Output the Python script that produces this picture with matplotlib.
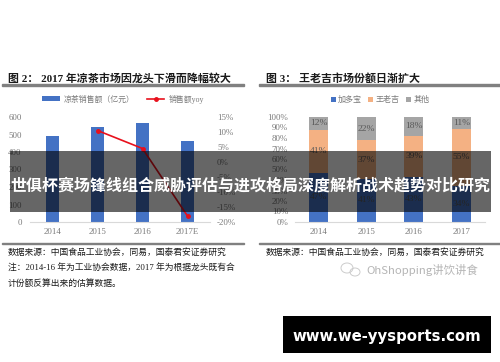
import matplotlib

matplotlib.use("Agg")
import matplotlib.pyplot as plt
from matplotlib.patches import Ellipse, Rectangle

SERIF_CJK = ["Liberation Serif", "Noto Sans CJK SC"]
plt.rcParams["font.family"] = SERIF_CJK

WIDTH, HEIGHT = 500, 362

# figure 2: herbal tea sales
sales_years = ["2014", "2015", "2016", "2017E"]
sales = [490, 540, 565, 462]
yoy = [None, 10.5, 4.5, -18]
sales_ticks = [0, 100, 200, 300, 400, 500, 600]
yoy_ticks = [-20, -15, -10, -5, 0, 5, 10, 15]

# figure 3: market share
share_years = ["2014", "2015", "2016", "2017"]
jiaduobao = [47, 41, 43, 34]
wanglaoji = [41, 37, 39, 55]
others = [12, 22, 18, 11]
share_ticks = list(range(0, 101, 10))

title_left = "图 2： 2017 年凉茶市场因龙头下滑而降幅较大"
title_right = "图 3： 王老吉市场份额日渐扩大"
source = "数据来源：中国食品工业协会，同易，国泰君安证券研究"
note_lines = ["注：2014-16 年为工业协会数据，2017 年为根据龙头既有合", "计份额反算出来的估算数据。"]
banner = "世俱杯赛场锋线组合威胁评估与进攻格局深度解析战术趋势对比研究"
site = "www.we-yysports.com"
watermark = "OhShopping讲饮讲食"

BLUE = "#4472c4"
ORANGE = "#f4b183"
GREY = "#a5a5a5"
RED = "#e8101c"
TICK = "#7a7a7a"
DARK = "#1a1a1a"


def fx(x):
    return x / WIDTH


def fy(y):
    return 1 - y / HEIGHT


def add_axes(figure, left, right, top, bottom):
    return figure.add_axes([fx(left), fy(bottom), fx(right - left), (bottom - top) / HEIGHT])


def style_axis(axis):
    for side in ("top", "left", "right"):
        axis.spines[side].set_visible(False)
    axis.spines["bottom"].set_color("#d9d9d9")
    axis.tick_params(length=0, labelsize=6.4, labelcolor=TICK, pad=4)
    axis.patch.set_alpha(0)


def put_text(figure, x, y, text, **kwargs):
    kwargs.setdefault("va", "center")
    kwargs.setdefault("color", DARK)
    return figure.text(fx(x), fy(y), text, **kwargs)


figure = plt.figure(figsize=(WIDTH / 100, HEIGHT / 100), dpi=100)

# left chart
axis = add_axes(figure, 30, 210, 117, 222)
style_axis(axis)
positions = range(len(sales_years))
axis.bar(positions, sales, width=0.31, color=BLUE, label="凉茶销售额（亿元）")
axis.set_xlim(-0.5, 3.5)
axis.set_ylim(0, 600)
axis.set_yticks(sales_ticks)
axis.set_xticks(list(positions), sales_years)
axis.tick_params(axis="y", pad=6)

twin = axis.twinx()
style_axis(twin)
twin.spines["bottom"].set_visible(False)
twin.plot(list(positions)[1:], yoy[1:], color=RED, linewidth=1.2, marker="o", markersize=2.5, label="销售额yoy")
twin.set_ylim(-20, 15)
twin.set_yticks(yoy_ticks, [f"{tick}%" for tick in yoy_ticks])
twin.tick_params(axis="y", pad=5)

handles = axis.get_legend_handles_labels()[0] + twin.get_legend_handles_labels()[0]
labels = axis.get_legend_handles_labels()[1] + twin.get_legend_handles_labels()[1]
figure.legend(
    handles, labels, ncols=2, frameon=False, fontsize=5.7, labelcolor=TICK, loc="center",
    bbox_to_anchor=(fx(123), fy(99)), handlelength=2.2, handleheight=0.5, columnspacing=1.6, handletextpad=0.5,
)

# right chart
axis_share = add_axes(figure, 295, 485, 117, 222)
style_axis(axis_share)
positions = list(range(len(share_years)))
bottom_others = [a + b for a, b in zip(jiaduobao, wanglaoji)]
bars_a = axis_share.bar(positions, jiaduobao, width=0.4, color=BLUE, label="加多宝")
bars_b = axis_share.bar(positions, wanglaoji, width=0.4, bottom=jiaduobao, color=ORANGE, label="王老吉")
bars_c = axis_share.bar(positions, others, width=0.4, bottom=bottom_others, color=GREY, label="其他")
for bars in (bars_a, bars_b, bars_c):
    axis_share.bar_label(
        bars, labels=[f"{bar.get_height():.0f}%" for bar in bars], label_type="center", fontsize=6.8, color="#595959"
    )
axis_share.set_xlim(-0.5, 3.5)
axis_share.set_ylim(0, 100)
axis_share.set_yticks(share_ticks, [f"{tick}%" for tick in share_ticks])
axis_share.set_xticks(positions, share_years)
axis_share.tick_params(axis="y", pad=5)
figure.legend(
    *axis_share.get_legend_handles_labels(), ncols=3, frameon=False, fontsize=5.8, labelcolor=TICK, loc="center",
    bbox_to_anchor=(fx(380), fy(100)), handlelength=0.6, handleheight=0.6, columnspacing=0.8, handletextpad=0.3,
)

# report titles, rules and sources
put_text(figure, 8, 78, title_left, fontsize=7.9, fontweight="bold")
put_text(figure, 266, 78, title_right, fontsize=7.9, fontweight="bold")
for left, right in ((2, 244), (259, 500)):
    figure.add_artist(Rectangle((fx(left), fy(85.5)), fx(right - left), 1 / HEIGHT, color="#808080", transform=figure.transFigure))
    figure.add_artist(Rectangle((fx(left), fy(243.5)), fx(right - left), 1 / HEIGHT, color="#808080", transform=figure.transFigure))
put_text(figure, 8, 252, source, fontsize=6.3)
put_text(figure, 266, 252, source, fontsize=6.3)
put_text(figure, 8, 268, note_lines[0], fontsize=6.3)
put_text(figure, 8, 283, note_lines[1], fontsize=6.3)

# watermark
put_text(figure, 366, 270, watermark, fontsize=8.2, color="#b5b5b5", family=["Noto Sans CJK SC"])
for x, y, w, h in ((347, 268, 12, 10), (355, 272, 10, 8)):
    figure.add_artist(
        Ellipse((fx(x), fy(y)), fx(w), h / HEIGHT, fill=False, edgecolor="#cccccc", linewidth=0.7, transform=figure.transFigure)
    )

# banner over the charts
figure.add_artist(
    Rectangle((fx(10), fy(212)), fx(481), 61 / HEIGHT, color="black", alpha=0.6, linewidth=0,
              transform=figure.transFigure, zorder=10)
)
put_text(figure, 250.5, 186, banner, fontsize=11.5, color="white", ha="center", fontweight="bold", zorder=11,
         family=["Noto Sans CJK SC"])

# site badge
figure.add_artist(
    Rectangle((fx(283), fy(353)), fx(208), 37 / HEIGHT, color="black", linewidth=0, transform=figure.transFigure, zorder=10)
)
put_text(figure, 387, 336, site, fontsize=10.7, color="white", ha="center", fontweight="bold", zorder=11,
         family=["DejaVu Sans"])

figure.savefig("out.png", dpi=100)
